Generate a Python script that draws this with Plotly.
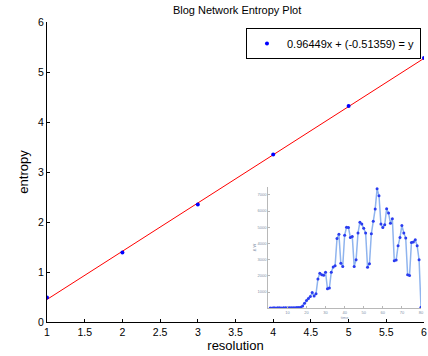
import plotly.graph_objects as go

# Main data
resolution = [1, 2, 3, 4, 5, 6]
entropy = [0.49, 1.39, 2.35, 3.35, 4.32, 5.28]
slope = 0.96449
intercept = -0.51359
fit_x = [1, 6]
fit_y = [slope * x + intercept for x in fit_x]

# Inset data (time vs delta W)
inset_time = list(range(1, 81))
inset_dw = [20, 20, 30, 20, 30, 30, 20, 30, 30, 30,
            30, 30, 30, 30, 40, 50, 60, 140, 300, 470,
            600, 720, 970, 760, 890, 1810, 2160, 2060, 2040, 2220,
            1200, 1240, 2220, 2550, 2620, 4300, 4570, 2780, 2580, 4500,
            5000, 4980, 4370, 4430, 2580, 2990, 4640, 5310, 5190, 4940,
            4640, 2530, 2740, 4600, 5360, 6120, 7370, 6940, 5190, 4980,
            5150, 6140, 5870, 5250, 5520, 2930, 2970, 3850, 4370, 5110,
            4640, 4330, 2060, 2020, 4060, 4080, 4220, 3850, 2990, 60]
inset_xticks = [10, 20, 30, 40, 50, 60, 70, 80]
inset_yticks = [1000, 2000, 3000, 4000, 5000, 6000, 7000]

FONT = "Liberation Sans, Arial, sans-serif"

fig = go.Figure()
fig.add_trace(go.Scatter(x=fit_x, y=fit_y, mode="lines",
                         line=dict(color="#ff0000", width=1), showlegend=False))
fig.add_trace(go.Scatter(x=resolution, y=entropy, mode="markers",
                         marker=dict(color="#0000ff", size=4),
                         name="0.96449x + (-0.51359) = y"))
fig.add_trace(go.Scatter(x=inset_time, y=inset_dw, mode="lines+markers",
                         line=dict(color="#8fb4ee", width=1.5),
                         marker=dict(color="#2a3cf0", size=3),
                         xaxis="x2", yaxis="y2", showlegend=False))

fig.update_layout(
    width=428, height=356,
    margin=dict(l=47, r=1, t=22, b=34),
    paper_bgcolor="white", plot_bgcolor="white",
    font=dict(family=FONT, size=11, color="black"),
    title=dict(text="Blog Network Entropy Plot", x=0.554, xanchor="center",
               y=0.972, yanchor="middle", font=dict(size=11)),
    xaxis=dict(range=[1, 6], dtick=0.5, tick0=1, showgrid=False, zeroline=False,
               showline=True, linecolor="black", linewidth=1,
               ticks="inside", ticklen=3, tickcolor="black",
               tickfont=dict(size=10.5),
               title=dict(text="resolution", standoff=4)),
    yaxis=dict(range=[0, 6], dtick=1, showgrid=False, zeroline=False,
               showline=True, linecolor="black", linewidth=1,
               ticks="inside", ticklen=3, tickcolor="black",
               tickfont=dict(size=10.5),
               title=dict(text="entropy", standoff=6)),
    xaxis2=dict(domain=[0.587, 0.992], anchor="y2", range=[0, 80],
                tickvals=inset_xticks, showgrid=False, zeroline=False,
                showline=True, linecolor="#b8b8b8", linewidth=1,
                ticks="inside", ticklen=2, tickcolor="#b8b8b8",
                tickfont=dict(size=4, color="#8090a8"),
                title=dict(text="time", font=dict(size=4, color="#8090a8"), standoff=0)),
    yaxis2=dict(domain=[0.046, 0.451], anchor="x2", range=[0, 7500],
                tickvals=inset_yticks, showgrid=False, zeroline=False,
                showline=True, linecolor="#b8b8b8", linewidth=1,
                ticks="inside", ticklen=2, tickcolor="#b8b8b8",
                tickfont=dict(size=4, color="#8090a8"),
                title=dict(text="Δ W", font=dict(size=4, color="#8090a8"), standoff=1)),
    legend=dict(x=0.992, xanchor="right", y=0.98, yanchor="top",
                bordercolor="black", borderwidth=1, bgcolor="white",
                font=dict(size=11)),
)

fig.write_html("out.html")
